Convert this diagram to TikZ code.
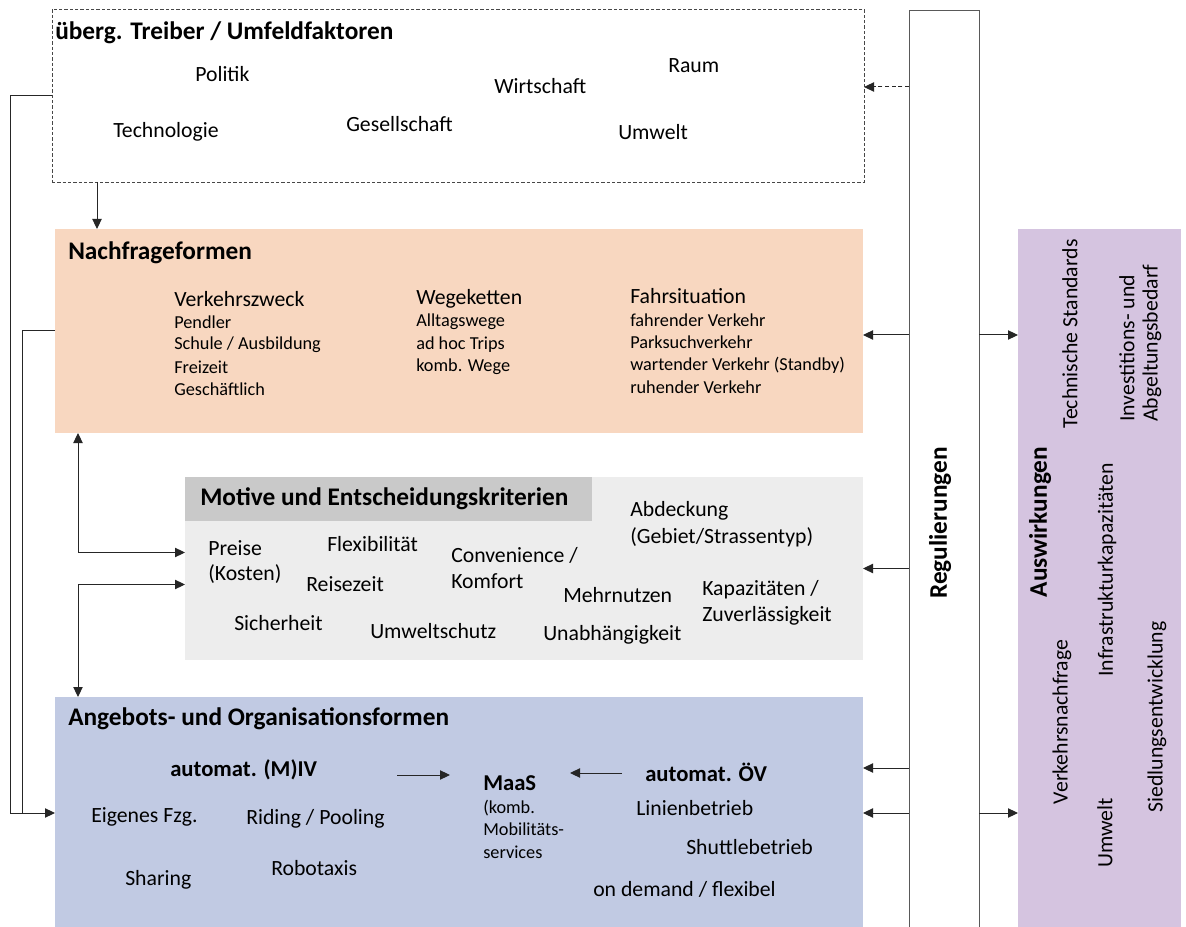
\documentclass[tikz,border=0pt]{standalone}
\usepackage{fontspec}
\setmainfont{Carlito}
\usetikzlibrary{arrows.meta,calc}
\definecolor{peach}{HTML}{F8D7C0}
\definecolor{bluebox}{HTML}{C1CAE3}
\definecolor{motivebg}{HTML}{EDEDED}
\definecolor{motivehd}{HTML}{C9C9C9}
\definecolor{purplebox}{HTML}{D5C4E0}
\definecolor{linec}{HTML}{262626}
\definecolor{regline}{HTML}{595959}
\tikzset{
 box/.style={anchor=north west, inner sep=0pt, outer sep=0pt},
 ttl/.style={anchor=west, inner sep=0pt, font=\fontsize{19}{22}\selectfont\bfseries},
 txt/.style={anchor=west, inner sep=0pt, font=\fontsize{16.3}{19}\selectfont},
 sml/.style={anchor=west, inner sep=0pt, font=\fontsize{13.7}{16}\selectfont},
 bld/.style={anchor=west, inner sep=0pt, font=\fontsize{17}{20}\selectfont\bfseries},
 vtxt/.style={rotate=90, inner sep=0pt, font=\fontsize{16.3}{19}\selectfont},
 vttl/.style={rotate=90, inner sep=0pt, font=\fontsize{19}{22}\selectfont\bfseries},
 arr/.style={draw=linec, line width=0.75pt, -{Triangle[length=7.5pt,width=7pt]}},
 darr/.style={draw=linec, line width=0.75pt, {Triangle[length=7.5pt,width=7pt]}-{Triangle[length=7.5pt,width=7pt]}},
 ln/.style={draw=linec, line width=0.75pt},
}
\begin{document}
\begin{tikzpicture}[x=0.75pt,y=-0.75pt]
\useasboundingbox (0,0) rectangle (1186,927);
\fill[white] (0,0) rectangle (1186,927);
% boxes
\node[box, draw=linec!85, dash pattern=on 2.5pt off 1.5pt, line width=0.6pt, minimum width=609pt, minimum height=129.75pt] (top) at (52,9) {};
\node[box, fill=peach, minimum width=606pt, minimum height=153pt] (nach) at (55,229) {};
\node[box, fill=motivebg, minimum width=508.5pt, minimum height=137.25pt] (motive) at (185,477) {};
\node[box, fill=motivehd, minimum width=305.25pt, minimum height=33pt] (mhead) at (185,477) {};
\node[box, fill=bluebox, minimum width=606pt, minimum height=174pt] (ang) at (55,697) {};
\node[box, fill=white, minimum width=52.5pt, minimum height=687pt] (reg) at (909,11) {};
\draw[draw=regline, line width=0.75pt] (reg.south west) -- (reg.north west) -- (reg.north east) -- (reg.south east);
\node[box, fill=purplebox, minimum width=122.25pt, minimum height=523.5pt] (ausw) at (1018,229) {};
% top box texts
\node[ttl] (ttop) at (55,33) {überg. Treiber / Umfeldfaktoren};
\node[txt] (pol) at (195,74) {Politik};
\node[txt] (wir) at (494,86) {Wirtschaft};
\node[txt] (raum) at (668,66) {Raum};
\node[txt] (tec) at (113,132) {Technologie};
\node[txt] (ges) at (346,124) {Gesellschaft};
\node[txt] (umw) at (618,132) {Umwelt};
% Nachfrageformen
\node[ttl] (tnach) at (68,253) {Nachfrageformen};
\node[txt] (vz) at (174,299) {Verkehrszweck};
\node[sml] (vz1) at (174,322) {Pendler};
\node[sml] (vz2) at (174,345) {Schule / Ausbildung};
\node[sml] (vz3) at (174,367) {Freizeit};
\node[sml] (vz4) at (174,389) {Geschäftlich};
\node[txt] (wk) at (416,299) {Wegeketten};
\node[sml] (wk1) at (416,322) {Alltagswege};
\node[sml] (wk2) at (416,345) {ad hoc Trips};
\node[sml] (wk3) at (416,367) {komb. Wege};
\node[txt] (fs) at (630,296) {Fahrsituation};
\node[sml] (fs1) at (630,320) {fahrender Verkehr};
\node[sml] (fs2) at (630,342) {Parksuchverkehr};
\node[sml] (fs3) at (630,365) {wartender Verkehr (Standby)};
\node[sml] (fs4) at (630,387) {ruhender Verkehr};
% Motive
\node[ttl] (tmot) at (200,499) {Motive und Entscheidungskriterien};
\node[txt] (abd1) at (630,511) {Abdeckung};
\node[txt] (abd2) at (630,537) {(Gebiet/Strassentyp)};
\node[txt] (pr1) at (208,548) {Preise};
\node[txt] (pr2) at (208,574) {(Kosten)};
\node[txt] (flex) at (327,544) {Flexibilität};
\node[txt] (conv1) at (451,555) {Convenience /};
\node[txt] (conv2) at (451,581) {Komfort};
\node[txt] (reise) at (306,584) {Reisezeit};
\node[txt] (mehr) at (563,595) {Mehrnutzen};
\node[txt] (kap1) at (702,590) {Kapazitäten /};
\node[txt] (kap2) at (702,616) {Zuverlässigkeit};
\node[txt] (sich) at (234,623) {Sicherheit};
\node[txt] (uws) at (370,631) {Umweltschutz};
\node[txt] (unab) at (543,635) {Unabhängigkeit};
% Angebot
\node[ttl] (tang) at (68,719) {Angebots- und Organisationsformen};
\node[bld] (miv) at (170,770) {automat. (M)IV};
\node[bld] (maas) at (483,783) {MaaS};
\node[sml] (maas1) at (483,808) {(komb.};
\node[sml] (maas2) at (483,829) {Mobilitäts-};
\node[sml] (maas3) at (483,852) {services};
\node[bld] (oev) at (645,772) {automat. ÖV};
\node[txt] (eig) at (91,817) {Eigenes Fzg.};
\node[txt] (rid) at (246,819) {Riding / Pooling};
\node[txt] (lin) at (636,808) {Linienbetrieb};
\node[txt] (shu) at (686,847) {Shuttlebetrieb};
\node[txt] (sha) at (125,880) {Sharing};
\node[txt] (rob) at (271,868) {Robotaxis};
\node[txt] (ond) at (593,889) {on demand / flexibel};
% rotated texts
\node[vttl] (treg) at (940,523) {Regulierungen};
\node[vttl] (tausw) at (1040,522) {Auswirkungen};
\node[vtxt] (ts) at (1070,334) {Technische Standards};
\node[vtxt, anchor=west] (inv1) at (1127,422) {Investitions- und};
\node[vtxt, anchor=west] (inv2) at (1152,422) {Abgeltungsbedarf};
\node[vtxt] (infra) at (1107,570) {Infrastrukturkapazitäten};
\node[vtxt] (vn) at (1062,722) {Verkehrsnachfrage};
\node[vtxt] (umw2) at (1105,833) {Umwelt};
\node[vtxt] (sied) at (1157,717) {Siedlungsentwicklung};
% connectors
\coordinate (c1) at (97,0);
\draw[arr] (c1 |- top.south) -- (c1 |- nach.north);
\coordinate (lx1) at (10,0);
\coordinate (lx2) at (22,0);
\draw[arr] (top.west) -- (top.west -| lx1) |- (ang.west);
\draw[ln] (nach.west) -- (nach.west -| lx2) -- (lx2 |- ang.west);
\coordinate (ax) at (78,0);
\coordinate (m1) at ($(motive.west)+(0,-16)$);
\coordinate (m2) at ($(motive.west)+(0,16)$);
\draw[darr] (ax |- nach.south) |- (m1);
\draw[darr] (ax |- ang.north) |- (m2);
\coordinate (r1) at (0,87);
\draw[arr, dash pattern=on 3pt off 2pt] (reg.west |- r1) -- (top.east |- r1);
\coordinate (r0) at (0,335);
\draw[arr] (reg.west |- r0) -- (nach.east |- r0);
\draw[arr] (reg.west |- motive.east) -- (motive.east);
\coordinate (r2) at (0,768);
\draw[arr] (reg.west |- r2) -- (ang.east |- r2);
\draw[arr] (reg.west |- ang.east) -- (ang.east);
\draw[arr] (reg.east |- r0) -- (ausw.west |- r0);
\draw[arr] (reg.east |- ang.east) -- (ausw.west |- ang.east);
\coordinate (p1) at (397,775);
\coordinate (p2) at (450,775);
\coordinate (p3) at (622,773);
\coordinate (p4) at (570,773);
\draw[arr] (p1) -- (p2);
\draw[arr] (p3) -- (p4);
\end{tikzpicture}
\end{document}
